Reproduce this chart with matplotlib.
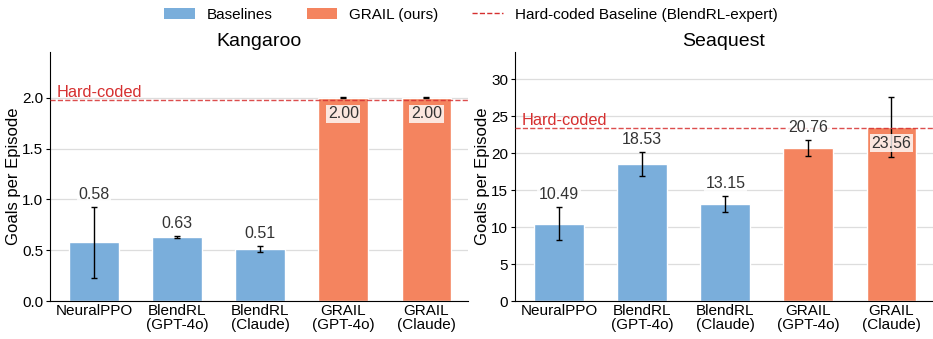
import numpy as np
import matplotlib.pyplot as plt
from matplotlib.patches import Patch
from matplotlib.lines import Line2D

plt.rcParams['font.family'] = ['Liberation Sans', 'DejaVu Sans']

methods = ['NeuralPPO', 'BlendRL\n(GPT-4o)', 'BlendRL\n(Claude)', 'GRAIL\n(GPT-4o)', 'GRAIL\n(Claude)']
is_grail = [False, False, False, True, True]

kangaroo_mean = [0.58, 0.63, 0.51, 2.00, 2.00]
kangaroo_err = [0.35, 0.01, 0.03, 0.005, 0.005]
kangaroo_hard = 1.98

seaquest_mean = [10.49, 18.53, 13.15, 20.76, 23.56]
seaquest_err = [2.2, 1.6, 1.1, 1.1, 4.0]
seaquest_hard = 23.45

BLUE = '#7aaedb'
ORANGE = '#f4845f'
RED = '#d62f2f'


def draw_panel(ax, title, means, errs, hard, ylim, yticks, inside):
    x = np.arange(len(means))
    colors = [ORANGE if g else BLUE for g in is_grail]
    ax.bar(x, means, width=0.6, color=colors, edgecolor='white', linewidth=1, zorder=2)
    ax.errorbar(x, means, yerr=errs, fmt='none', ecolor='black', elinewidth=1,
                capsize=2.5, capthick=1, zorder=3)
    ax.axhline(hard, color=RED, linestyle='--', linewidth=1, alpha=0.85, zorder=4)
    ax.text(-0.45, hard, 'Hard-coded', color=RED, fontsize=11.8, ha='left', va='bottom')

    off = 0.05 * ylim
    for i, (m, e) in enumerate(zip(means, errs)):
        if i in inside:
            y = m - 0.065 * ylim
        else:
            y = m + e + off
        ax.text(i, y, f'{m:.2f}', ha='center', va='center', fontsize=11.5, color='#333333',
                bbox=dict(boxstyle='square,pad=0.1', facecolor='white', edgecolor='none', alpha=0.8),
                zorder=5)

    ax.set_title(title, fontsize=14, pad=4)
    ax.set_ylabel('Goals per Episode', fontsize=12, labelpad=1)
    ax.set_xticks(x)
    ax.set_xticklabels(methods, fontsize=11, linespacing=1.05)
    ax.set_yticks(yticks)
    ax.tick_params(axis='y', labelsize=11, length=3, pad=2)
    ax.tick_params(axis='x', length=0, pad=2)
    ax.set_ylim(0, ylim)
    ax.set_xlim(-0.53, 4.5)
    ax.grid(axis='y', color='#dddddd', linewidth=0.9, zorder=0)
    ax.set_axisbelow(True)
    for s in ['top', 'right']:
        ax.spines[s].set_visible(False)
    ax.spines['left'].set_color('black')
    ax.spines['bottom'].set_color('black')


fig = plt.figure(figsize=(9.33, 3.39), dpi=100)
ax1 = fig.add_axes([0.0536, 0.112, 0.448, 0.7345])
ax2 = fig.add_axes([0.552, 0.112, 0.448, 0.7345])

draw_panel(ax1, 'Kangaroo', kangaroo_mean, kangaroo_err, kangaroo_hard, 2.45,
           [0.0, 0.5, 1.0, 1.5, 2.0], inside=[3, 4])
ax1.set_yticklabels(['0.0', '0.5', '1.0', '1.5', '2.0'])
draw_panel(ax2, 'Seaquest', seaquest_mean, seaquest_err, seaquest_hard, 33.7,
           [0, 5, 10, 15, 20, 25, 30], inside=[4])

handles = [Patch(facecolor=BLUE, label='Baselines'),
           Patch(facecolor=ORANGE, label='GRAIL (ours)'),
           Line2D([0], [0], color=RED, linestyle='--', linewidth=1, label='Hard-coded Baseline (BlendRL-expert)')]
fig.legend(handles=handles, loc='center', bbox_to_anchor=(0.505, 0.957), ncol=3, frameon=False,
           fontsize=11, handlelength=2.0, handletextpad=0.8, columnspacing=2.2)

fig.savefig('out.png', dpi=100, facecolor='white')
